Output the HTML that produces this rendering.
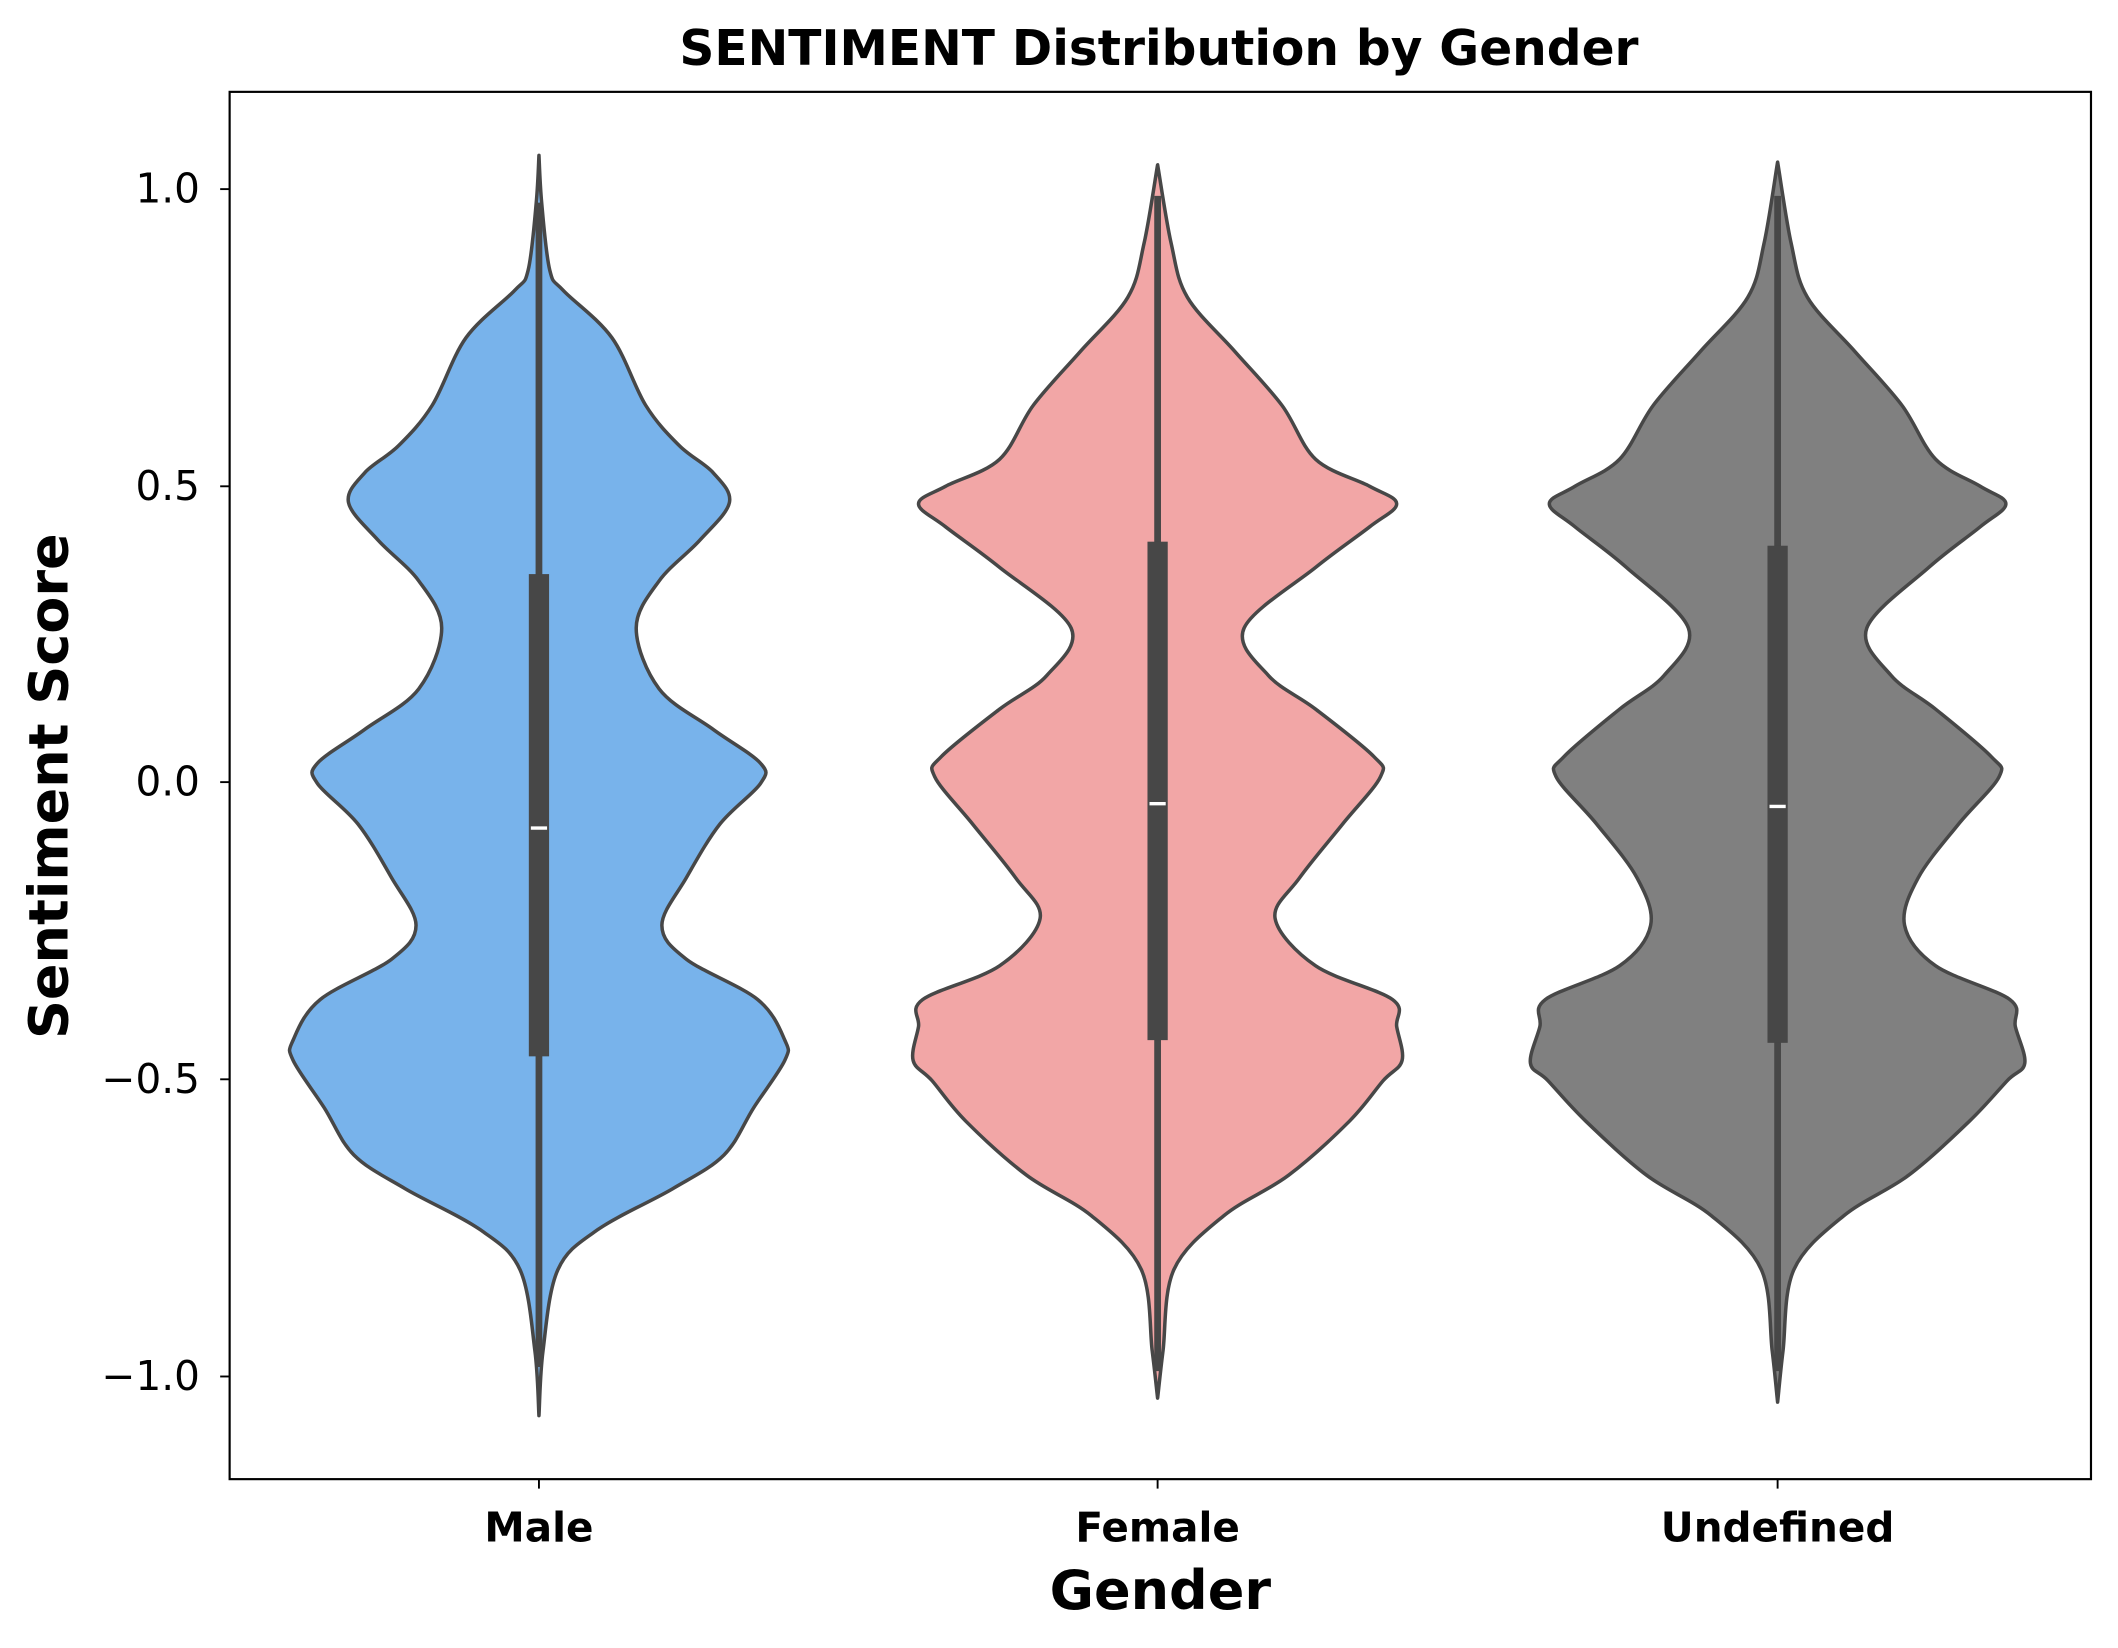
<!DOCTYPE html>
<html><head><meta charset="utf-8"><style>
html,body{margin:0;padding:0;background:#fff;}
svg{display:block;}
text{font-family:"DejaVu Sans","Liberation Sans",sans-serif;fill:#000;}
</style></head><body>
<svg id="s" width="2118" height="1648" viewBox="0 0 1568 1220" preserveAspectRatio="none" xmlns="http://www.w3.org/2000/svg">
<rect x="0" y="0" width="1568" height="1220" fill="#fff"/>
<g id="v"></g>
<rect x="170" y="68" width="1378" height="1027" fill="none" stroke="#000" stroke-width="1.6"/>
<g stroke="#000" stroke-width="1.4">
<line x1="163" y1="140" x2="170" y2="140"/><line x1="163" y1="360" x2="170" y2="360"/>
<line x1="163" y1="579" x2="170" y2="579"/><line x1="163" y1="799" x2="170" y2="799"/>
<line x1="163" y1="1019" x2="170" y2="1019"/>
<line x1="399" y1="1095" x2="399" y2="1102"/><line x1="857" y1="1095" x2="857" y2="1102"/>
<line x1="1316" y1="1095" x2="1316" y2="1102"/>
</g>
<g font-size="30" text-anchor="end">
<text x="148" y="150">1.0</text><text x="148" y="370">0.5</text><text x="148" y="589">0.0</text>
<text x="148" y="809">−0.5</text><text x="148" y="1029">−1.0</text>
</g>
<g font-size="30" font-weight="bold" text-anchor="middle">
<text x="399" y="1141">Male</text><text x="857" y="1141">Female</text><text x="1316" y="1141">Undefined</text>
</g>
<text x="859" y="1191" font-size="40" font-weight="bold" text-anchor="middle">Gender</text>
<text x="858" y="48" font-size="36" font-weight="bold" text-anchor="middle">SENTIMENT Distribution by Gender</text>
<text transform="translate(50,582) rotate(-90)" font-size="40" font-weight="bold" text-anchor="middle">Sentiment Score</text>
</svg>
<script>
var V=[
{c:399,f:"#78b3eb",p:[[115,0],[150,2],[200,8],[215,18],[250,54],[300,79],[330,104],[350,129],[372,141],[400,119],[430,89],[465,72],[510,89],[540,129],[565,164],[580,164],[610,134],[650,109],[685,91],[710,109],[740,162],[770,182],[785,182],[820,159],[855,137],[880,99],[910,44],[940,14],[1000,3],[1048,0]],b:[425,782,613],w:[150,1012]},
{c:857,f:"#f2a6a6",p:[[122,0],[180,10],[220,22],[260,57],[300,92],[340,117],[360,157],[373,177],[390,157],[420,117],[465,64],[500,82],[525,117],[560,160],[575,165],[610,137],[650,105],[680,87],[715,117],[740,174],[760,177],[785,181],[800,167],[830,142],[870,97],[900,49],[940,12],[1000,4],[1035,0]],b:[401,770,595],w:[145,1015]},
{c:1316,f:"#808080",p:[[120,0],[180,10],[220,22],[260,57],[300,92],[340,117],[360,150],[373,169],[390,150],[420,112],[465,66],[500,84],[525,117],[560,158],[575,164],[610,134],[650,104],[685,94],[715,117],[740,172],[760,176],[787,183],[800,170],[830,142],[870,97],[900,49],[940,12],[1000,4],[1038,0]],b:[404,772,597],w:[145,1015]}];
function smooth(pts){var d='M'+pts[0][0]+','+pts[0][1];
for(var i=0;i<pts.length-1;i++){var p0=pts[Math.max(i-1,0)],p1=pts[i],p2=pts[i+1],p3=pts[Math.min(i+2,pts.length-1)];
var c1x=p1[0]+(p2[0]-p0[0])/6,c1y=p1[1]+(p2[1]-p0[1])/6,c2x=p2[0]-(p3[0]-p1[0])/6,c2y=p2[1]-(p3[1]-p1[1])/6;
d+=' C'+c1x.toFixed(1)+','+c1y.toFixed(1)+' '+c2x.toFixed(1)+','+c2y.toFixed(1)+' '+p2[0]+','+p2[1];}return d;}
var g=document.getElementById('v'),h='';
V.forEach(function(o){var L=[],R=[];o.p.forEach(function(q){L.push([o.c-q[1],q[0]]);R.push([o.c+q[1],q[0]]);});
h+='<path d="'+smooth(L)+' '+smooth(R.reverse()).replace('M','L')+' Z" fill="'+o.f+'" stroke="#474747" stroke-width="2.6" stroke-linejoin="round"/>';
h+='<line x1="'+o.c+'" y1="'+o.w[0]+'" x2="'+o.c+'" y2="'+o.w[1]+'" stroke="#474747" stroke-width="5"/>';
h+='<rect x="'+(o.c-7.5)+'" y="'+o.b[0]+'" width="15" height="'+(o.b[1]-o.b[0])+'" fill="#474747"/>';
h+='<line x1="'+(o.c-6)+'" y1="'+o.b[2]+'" x2="'+(o.c+6)+'" y2="'+o.b[2]+'" stroke="#fff" stroke-width="2.5"/>';});
g.innerHTML=h;
</script>
</body></html>
